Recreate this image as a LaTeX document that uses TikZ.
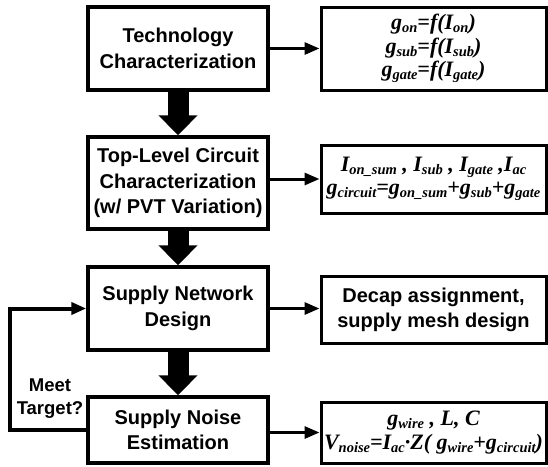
\documentclass[tikz,border=0pt]{standalone}
\usepackage{fontspec}
\setmainfont{Liberation Serif}
\setsansfont{Liberation Sans}
\usetikzlibrary{arrows.meta}
\newcommand\sbs[1]{\raisebox{-3pt}{\fontsize{14.5}{14.5}\selectfont #1}}
\tikzset{
  lbox/.style={draw, line width=3.5pt, minimum width=180pt, align=center, inner sep=0pt,
    font=\sffamily\bfseries\fontsize{20}{25.5}\selectfont},
  rbox/.style={draw, line width=3pt, minimum width=225pt, align=center, inner sep=0pt,
    font=\rmfamily\bfseries\itshape\fontsize{22}{23.5}\selectfont},
  rboxs/.style={draw, line width=3pt, minimum width=225pt, align=center, inner sep=0pt,
    font=\sffamily\bfseries\fontsize{20}{25}\selectfont},
  bigarrow/.style={line width=21pt, -{Triangle[length=20pt,width=38pt]}},
  conn/.style={line width=3pt, -{Triangle[length=15pt,width=12pt]}},
  fbline/.style={line width=4pt, -{Triangle[length=15pt,width=12pt]}},
  lbl/.style={align=center, inner sep=0pt, font=\sffamily\bfseries\fontsize{18.5}{23}\selectfont},
}
\begin{document}
\begin{tikzpicture}[x=1pt,y=-1pt]
\useasboundingbox (0,0) rectangle (548,466);
% left column
\node[lbox, minimum height=83pt] (L1) at (178,48.5) {Technology\\Characterization};
\node[lbox, minimum height=92pt] (L2) at (178,183) {Top-Level Circuit\\Characterization\\(w/ PVT Variation)};
\node[lbox, minimum height=83pt] (L3) at (178,308.5) {Supply Network\\Design};
\node[lbox, minimum height=66pt] (L4) at (178,430) {Supply Noise\\Estimation};
% right column
\node[rbox, minimum height=83pt] (R1) at (433.5,48.5)
  {g\sbs{on}=f(I\sbs{on})\\g\sbs{sub}=f(I\sbs{sub})\\g\sbs{gate}=f(I\sbs{gate})};
\node[rbox, minimum height=68pt] (R2) at (433.5,179)
  {I\sbs{on\_sum} , I\sbs{sub} , I\sbs{gate} ,I\sbs{ac}\\g\sbs{circuit}=g\sbs{on\_sum}+g\sbs{sub}+g\sbs{gate}};
\node[rboxs, minimum height=67pt] (R3) at (433.5,309.5) {Decap assignment,\\supply mesh design};
\node[rbox, minimum height=61pt] (R4) at (433.5,432.5)
  {g\sbs{wire} , L, C\\V\sbs{noise}=I\sbs{ac}·Z( g\sbs{wire}+g\sbs{circuit})};
% thick flow arrows
\draw[bigarrow] (L1.south) -- (L2.north);
\draw[bigarrow] (L2.south) -- (L3.north);
\draw[bigarrow] (L3.south) -- (L4.north);
% side arrows
\draw[conn] (L1.east) -- (R1.west);
\draw[conn] (L2.east |- R2.west) -- (R2.west);
\draw[conn] (L3.east) -- (L3.east -| R3.west);
\draw[conn] (L4.east |- R4.west) -- (R4.west);
% feedback
\coordinate (fb) at (10,370);
\draw[fbline, line join=miter] (L4.west) -| (fb) |- (L3.west);
\node[lbl] (mt) at (50,399) {Meet\\Target?};
\end{tikzpicture}
\end{document}
